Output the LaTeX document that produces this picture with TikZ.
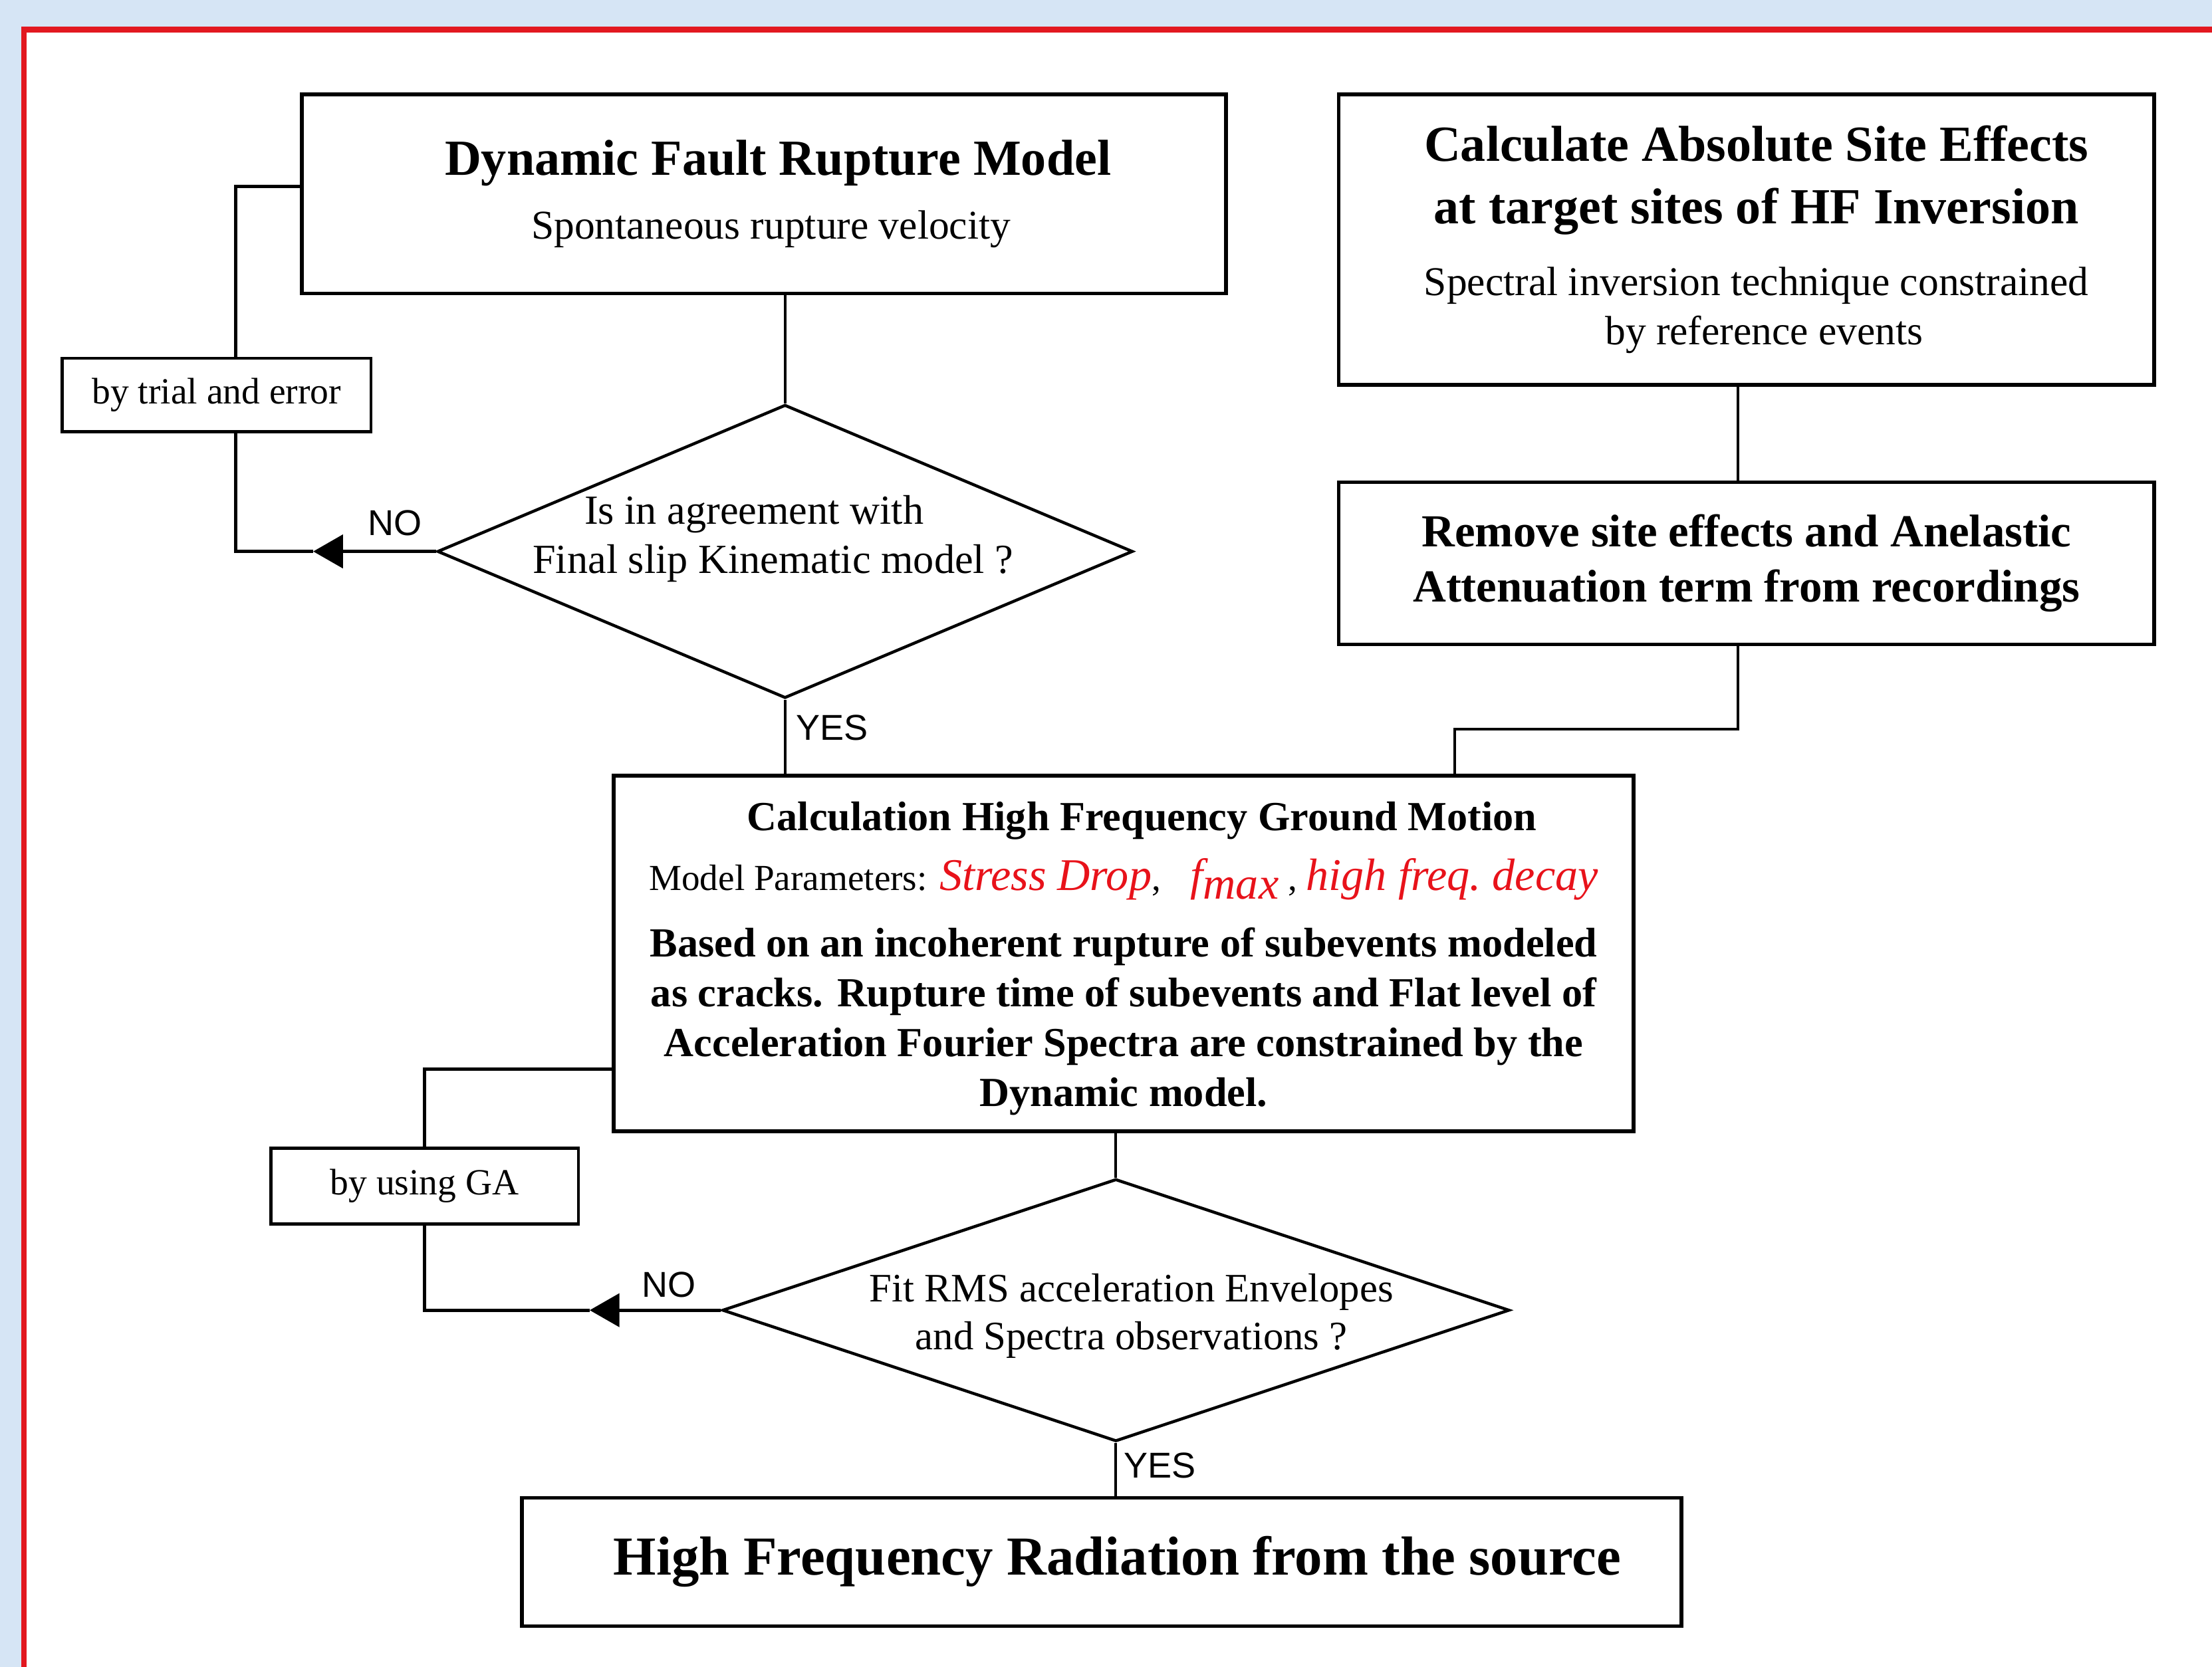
\documentclass[tikz,border=0pt]{standalone}
\usepackage{fontspec}
\setmainfont{Liberation Serif}
\setsansfont{Liberation Sans}
\usepackage{xcolor}
\usetikzlibrary{positioning,arrows.meta,shapes.geometric}

\definecolor{framered}{RGB}{226,24,32}
\definecolor{paperblue}{RGB}{214,229,245}
\definecolor{parred}{RGB}{232,18,26}

\newcommand\headfont{\fontsize{20.4}{24}\selectfont\bfseries}
\newcommand\plainfont{\fontsize{16.5}{20}\selectfont}
\newcommand\smallplain{\fontsize{14.8}{18}\selectfont\mdseries}
\newcommand\redfont{\fontsize{18.3}{20}\selectfont\mdseries\itshape\color{parred}}

\tikzset{
  block/.style={draw, line width=1.5pt, fill=white, inner sep=0pt, align=center},
  decision/.style={draw, diamond, line width=1.2pt, fill=white, inner sep=0pt},
  qtext/.style={align=center, inner sep=0pt, font=\fontsize{16.7}{20}\selectfont},
  side/.style={draw, line width=1.3pt, fill=white, inner sep=0pt, font=\fontsize{14.9}{18}\selectfont},
  link/.style={line width=1.1pt},
  back/.style={line width=1.3pt},
  answer/.style={font=\sffamily\fontsize{14.5}{17}\selectfont},
  tip/.style={-{Triangle[length=12pt,width=13.4pt]}}
}

\begin{document}
\begin{tikzpicture}[x=0.2mm, y=-0.2mm]
  \useasboundingbox (0,0) rectangle (1568,1182);
  \clip (0,0) rectangle (1568,1182);
  \fill[paperblue] (0,0) rectangle (1568,1182);
  \filldraw[fill=white, draw=framered, line width=2.2pt] (17,21) rectangle (1640,1260);

  \coordinate (a1) at (222,391);
  \coordinate (t1) at (167,132);
  \coordinate (a2) at (418,929);
  \coordinate (t2) at (301,758);
  \coordinate (bc) at (1232,0);
  \coordinate (e1) at (1031,517);

  \node[block, minimum width=131mm, minimum height=28.2mm, font=\plainfont] (dyn) at (541.5,137.5)
    {\hspace*{4mm}{\headfont Dynamic Fault Rupture Model}\\[6pt]\hspace*{2mm}Spontaneous rupture velocity};
  \node[block, minimum width=115.6mm, minimum height=41.2mm, font=\plainfont] (site) at (1238,170)
    {\hspace*{2.8mm}{\headfont Calculate Absolute Site Effects}\\[5pt]\hspace*{2.8mm}{\headfont at target sites of HF Inversion}\\[9pt]
     \hspace*{2.8mm}Spectral inversion technique constrained\\\hspace*{5mm}by reference events};
  \node[block, minimum width=115.6mm, minimum height=23mm, font=\fontsize{18.5}{22.2}\selectfont\bfseries] (remove) at (1238,399.5)
    {Remove site effects and Anelastic\\Attenuation term from recordings};
  \node[block, minimum width=144.6mm, minimum height=50.4mm, font=\fontsize{16.7}{20.2}\selectfont\bfseries] (calc) at (796.5,676)
    {\rule{0pt}{16pt}\hspace*{5.2mm}Calculation High Frequency Ground Motion\\[3.8pt]
     {\smallplain Model Parameters: }{\redfont Stress Drop}{\smallplain,}\hspace{12pt}{\redfont f\raisebox{-3.5pt}{max}}{\smallplain\ ,\ }{\redfont high freq.\ decay}\\[6.5pt]
     Based on an incoherent rupture of subevents modeled\\
     as cracks. Rupture time of subevents and Flat level of\\
     Acceleration Fourier Spectra are constrained by the\\
     Dynamic model.};
  \node[block, minimum width=164.4mm, minimum height=18.2mm, font=\fontsize{22.2}{26}\selectfont\bfseries] (final) at (781,1107.5)
    {\hspace*{4.4mm}High Frequency Radiation from the source};

  \node[side, minimum width=43.8mm, minimum height=10.4mm] (trial) at (153.5,280) {by trial and error};
  \node[side, minimum width=43.6mm, minimum height=10.8mm] (ga) at (301,841) {by using GA};

  \node[decision, minimum width=98.6mm, minimum height=41.6mm] (d1) at (556.5,391) {};
  \node[qtext] (d1t) at (548,382) {Is in agreement with\hspace*{5.4mm}\\Final slip Kinematic model ?};
  \node[decision, minimum width=111.6mm, minimum height=37.2mm] (d2) at (791,929) {};
  \node[qtext, font=\fontsize{16.3}{19.3}\selectfont] (d2t) at (802,933) {Fit RMS acceleration Envelopes\\and Spectra observations ?};

  \node[answer] (no1) at (280,371) {NO};
  \node[answer] (yes1) at (590,516) {YES};
  \node[answer] (no2) at (474,911) {NO};
  \node[answer] (yes2) at (822,1039) {YES};

  \draw[link] (d1.north) -- (d1.north |- dyn.south);
  \draw[link] (d1.south) -- (d1.south |- calc.north);
  \draw[link] (site.south -| bc) -- (remove.north -| bc);
  \draw[link] (remove.south -| bc) |- (e1) -- (e1 |- calc.north);
  \draw[link] (d2.north) -- (d2.north |- calc.south);
  \draw[link] (d2.south) -- (d2.south |- final.north);

  \draw[back, tip] (d1.west) -- (a1);
  \draw[back] (a1) -| (trial.south -| t1);
  \draw[back] (trial.north -| t1) -- (t1) -- (t1 -| dyn.west);
  \draw[back, tip] (d2.west) -- (a2);
  \draw[back] (a2) -| (ga.south);
  \draw[back] (ga.north) -- (t2) -- (t2 -| calc.west);
\end{tikzpicture}
\end{document}
